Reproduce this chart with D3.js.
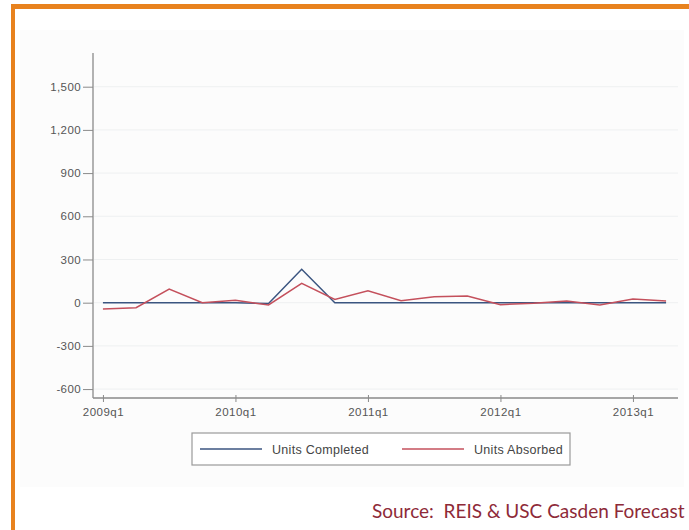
<!DOCTYPE html>
<html>
<head>
<meta charset="utf-8">
<script src="https://cdn.jsdelivr.net/npm/d3@7"></script>
<style>
html,body{margin:0;padding:0;background:#fff;}
svg{display:block;}
</style>
</head>
<body>
<svg id="chart" width="689" height="530"></svg>
<script>
const quarters = ["2009q1","2009q2","2009q3","2009q4","2010q1","2010q2","2010q3","2010q4","2011q1","2011q2","2011q3","2011q4","2012q1","2012q2","2012q3","2012q4","2013q1","2013q2"];
const unitsCompleted = [0,0,0,0,0,-6,232,0,0,0,0,0,0,0,0,0,0,0];
const unitsAbsorbed = [-44,-35,95,0,16,-16,134,23,83,14,42,46,-14,-4,12,-16,26,12];
const yTicks = [-600,-300,0,300,600,900,1200,1500];
const xTickLabels = ["2009q1","2010q1","2011q1","2012q1","2013q1"];
const seriesNames = ["Units Completed","Units Absorbed"];
const sourceText = "Source:  REIS & USC Casden Forecast";

const svg = d3.select("#chart");
const tickFont = "Liberation Sans, Arial, sans-serif";

// orange frame
svg.append("rect").attr("x",20).attr("y",30).attr("width",664).attr("height",457).attr("fill","#fcfcfc");
svg.append("line").attr("x1",11).attr("x2",689).attr("y1",6.5).attr("y2",6.5).attr("stroke","#e8821e").attr("stroke-width",5);
svg.append("line").attr("x1",13).attr("x2",13).attr("y1",4).attr("y2",530).attr("stroke","#e8821e").attr("stroke-width",4);

const x = d3.scaleLinear().domain([-0.3, 17.36]).range([93, 678]);
const y = d3.scaleLinear().domain([-662, 1734]).range([398, 53]);

// gridlines
svg.append("g").selectAll("line").data(yTicks).join("line")
  .attr("x1",94).attr("x2",678)
  .attr("y1",d=>y(d)).attr("y2",d=>y(d))
  .attr("stroke","#eef0f1").attr("stroke-width",1);

// y axis
const fmt = d3.format(",");
const yAxis = d3.axisLeft(y).tickValues(yTicks).tickSize(10).tickPadding(2)
  .tickFormat(d=>fmt(d).replace("\u2212","-"));
const gy = svg.append("g").attr("transform","translate(93,0)").call(yAxis);
gy.select(".domain").attr("d","M0,53V398").attr("stroke","#8a8a8a").attr("stroke-width",1.3);
gy.selectAll(".tick line").attr("stroke","#8a8a8a");
gy.selectAll(".tick text").attr("font-family",tickFont).attr("font-size",11.5)
  .attr("letter-spacing","0.4px").attr("fill","#555");

// x axis
const xTickIdx = xTickLabels.map(l=>quarters.indexOf(l));
const xAxis = d3.axisBottom(x).tickValues(xTickIdx).tickSize(6).tickPadding(4)
  .tickFormat(i=>quarters[i]);
const gx = svg.append("g").attr("transform","translate(0,398)").call(xAxis);
gx.select(".domain").attr("d","M93,0H678").attr("stroke","#8a8a8a").attr("stroke-width",1.3);
gx.selectAll(".tick line").attr("stroke","#8a8a8a").attr("y1",-3).attr("y2",4);
gx.selectAll(".tick text").attr("font-family",tickFont).attr("font-size",11.5)
  .attr("letter-spacing","0.5px").attr("fill","#555");

// lines
const line = d3.line().x((d,i)=>x(i)).y(d=>y(d));
svg.append("path").datum(unitsCompleted).attr("d",line)
  .attr("fill","none").attr("stroke","#3b5580").attr("stroke-width",1.5);
svg.append("path").datum(unitsAbsorbed).attr("d",line)
  .attr("fill","none").attr("stroke","#c4505c").attr("stroke-width",1.5);

// legend
const lg = svg.append("g");
lg.append("rect").attr("x",192).attr("y",433).attr("width",378).attr("height",32)
  .attr("fill","#fff").attr("stroke","#9a9a9a").attr("stroke-width",1.2);
const colors = ["#3b5580","#c4505c"];
const lx = [200,402];
seriesNames.forEach((n,i)=>{
  lg.append("line").attr("x1",lx[i]).attr("x2",lx[i]+62).attr("y1",449).attr("y2",449)
    .attr("stroke",colors[i]).attr("stroke-width",1.3);
  lg.append("text").attr("x",lx[i]+72).attr("y",453.5).text(n)
    .attr("font-family",tickFont).attr("font-size",12.5).attr("letter-spacing","0.3px").attr("fill","#444");
});

// source
svg.append("text").attr("x",372).attr("y",518).text(sourceText)
  .attr("font-family","Lato, Open Sans, sans-serif").attr("font-size",19)
  .attr("fill","#8e2a38").style("white-space","pre");
</script>
</body>
</html>
